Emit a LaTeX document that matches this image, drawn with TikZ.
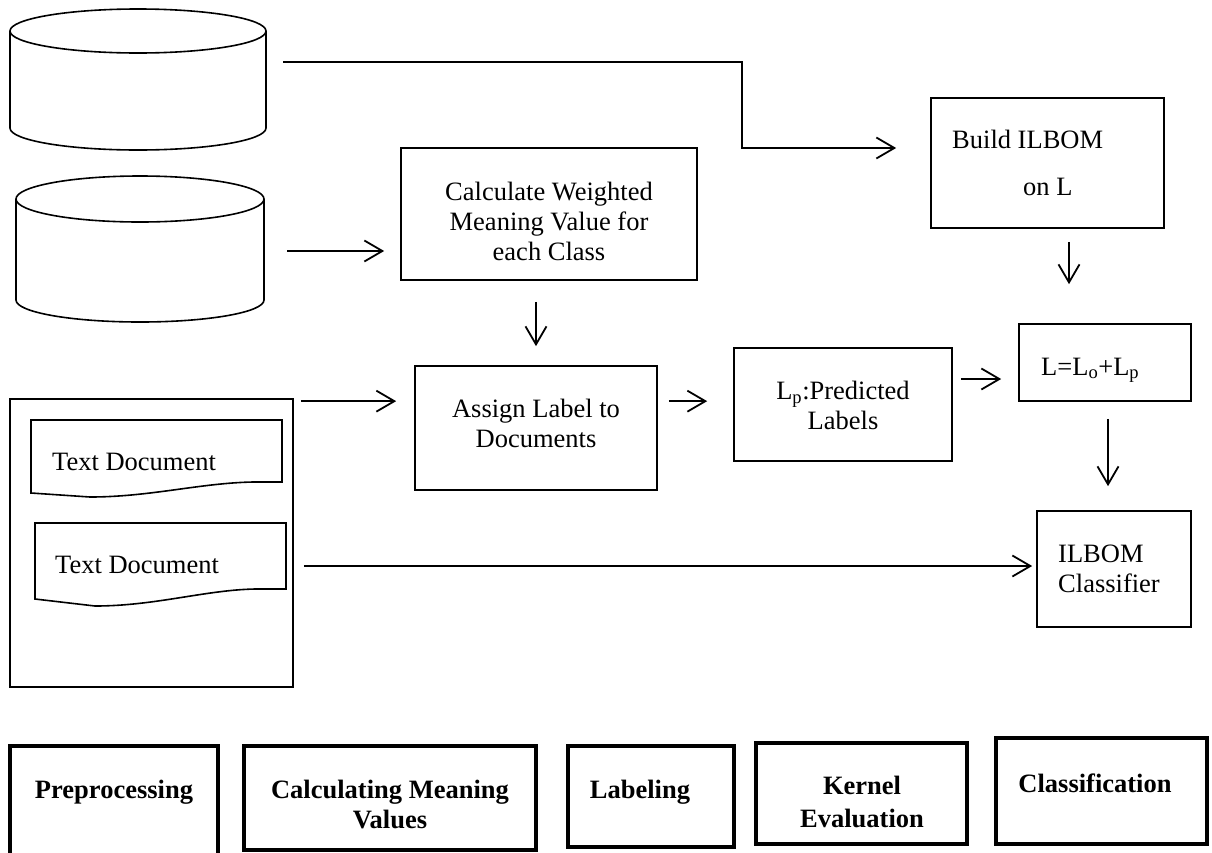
\documentclass[tikz,border=0pt]{standalone}
\usepackage{fontspec}
\setmainfont{Liberation Serif}
\usetikzlibrary{arrows.meta,calc}
\begin{document}
\begin{tikzpicture}[x=1pt,y=-1pt,
  every node/.style={font=\fontsize{26.5}{30}\selectfont},
  box/.style={draw, line width=1.7pt, inner sep=0pt},
  phasebox/.style={draw, line width=3.4pt, inner sep=0pt},
  ph/.style={font=\bfseries\fontsize{26.5}{30}\selectfont, inner sep=0pt, align=center},
  txt/.style={inner sep=0pt, align=center},
  arr/.style={line width=1.8pt, -{Straight Barb[length=18pt,width=21pt,line width=1.8pt]}},
  outline/.style={line width=1.6pt},
  ghost/.style={inner sep=0pt, draw=none}]
\useasboundingbox (0,0) rectangle (1212,852);
\fill[white] (0,0) rectangle (1212,852);
\clip (0,0) rectangle (1212,852);

% databases
\node[ghost, minimum width=256pt, minimum height=140pt] (db1) at (138,80) {};
\draw[outline] (138,31) ellipse [x radius=128, y radius=22];
\draw[outline] (10,31) -- (10,128) .. controls (10,140.2) and (67.3,150) .. (138,150) .. controls (208.7,150) and (266,140.2) .. (266,128) -- (266,31);

\node[ghost, minimum width=248pt, minimum height=146pt] (db2) at (140,249) {};
\draw[outline] (140,199) ellipse [x radius=124, y radius=23];
\draw[outline] (16,199) -- (16,300) .. controls (16,312.2) and (71.5,322) .. (140,322) .. controls (208.5,322) and (264,312.2) .. (264,300) -- (264,199);

% document container
\node[box, minimum width=283pt, minimum height=288pt] (cont) at (151.5,543) {};
\draw[outline] (31,493) -- (31,420) -- (282,420) -- (282,482) -- (253,482) .. controls (200,483) and (150,497) .. (90,497) -- cycle;
\node[txt, anchor=base west] (doc1) at (52,470) {Text Document};
\draw[outline] (35,599) -- (35,523) -- (286,523) -- (286,589) -- (255,589) .. controls (205,590) and (155,606) .. (95,606) -- cycle;
\node[txt, anchor=base west] (doc2) at (55,573) {Text Document};

% process boxes
\node[box, minimum width=296pt, minimum height=132pt] (calc) at (549,214) {};
\node[txt] (calct) at (549,221) {Calculate Weighted\\Meaning Value for\\each Class};

\node[box, minimum width=242pt, minimum height=124pt] (assign) at (536,428) {};
\node[txt] (assignt) at (536,423) {Assign Label to\\Documents};

\node[box, minimum width=218pt, minimum height=113pt] (lp) at (843,404.5) {};
\node[txt] (lpt) at (843,405.5) {L\textsubscript{p}:Predicted\\Labels};

\node[box, minimum width=172pt, minimum height=77pt] (lsum) at (1105,362.5) {};
\node[txt, anchor=base west] (lsumt) at (1041,375) {L=L\textsubscript{o}+L\textsubscript{p}};

\node[box, minimum width=233pt, minimum height=130pt] (build) at (1047.5,163) {};
\node[txt, anchor=base west] (buildt) at (952,148) {Build ILBOM};
\node[txt, anchor=base west] (buildt2) at (1023,195) {on L};

\node[box, minimum width=154pt, minimum height=116pt] (clf) at (1114,569) {};
\node[txt, align=left, anchor=north west] (clft) at (1058,544.5) {ILBOM\\Classifier};

% phase boxes
\node[phasebox, minimum width=208pt, minimum height=112pt] (pre) at (114,802) {};
\node[ph, anchor=base] (pret) at (114,798) {Preprocessing};
\node[phasebox, minimum width=292pt, minimum height=104pt] (cmv) at (390,798) {};
\node[ph] (cmvt) at (390,804) {Calculating Meaning\\Values};
\node[phasebox, minimum width=166pt, minimum height=101pt] (lab) at (651,796.5) {};
\node[ph, anchor=base] (labt) at (640,798) {Labeling};
\node[phasebox, minimum width=211pt, minimum height=101pt] (ker) at (861.5,793.5) {};
\node[ph] (kert) at (862,801.5) {Kernel\\[3pt]Evaluation};
\node[phasebox, minimum width=211pt, minimum height=106pt] (cls) at (1101.5,791) {};
\node[ph, anchor=base] (clst) at (1095,792) {Classification};

% connectors
\draw[arr] ([xshift=17pt,yshift=18pt]db1.east) -| (742,105) |- ([xshift=-34pt,yshift=15pt]build.west);
\draw[arr] ([xshift=23pt,yshift=-2pt]db2.east) -- ([xshift=-16pt,yshift=-37pt]calc.west);
\draw[arr] ([yshift=-21pt]calc.south -| assign.north) -- ([yshift=19pt]assign.north);
\coordinate (a4) at ([xshift=7pt,yshift=-3pt]cont.north east);
\draw[arr] (a4) -- ([xshift=-18pt]a4 -| assign.west);
\draw[arr] ([xshift=11pt]a4 -| assign.east) -- ([xshift=-26pt]a4 -| lp.west);
\coordinate (b6) at ([xshift=21.5pt,yshift=-13pt]build.south);
\draw[arr] (b6) -- ([yshift=39pt]b6 |- lsum.north);
\coordinate (b7) at ([yshift=-16.5pt]lsum.west);
\draw[arr] ([xshift=8pt]b7 -| lp.east) -- ([xshift=-17pt]b7);
\coordinate (b8) at ([xshift=3pt,yshift=-17pt]lsum.south);
\draw[arr] (b8) -- ([yshift=24pt]b8 |- clf.north);
\coordinate (b9) at ([xshift=10pt,yshift=-23pt]cont.east);
\draw[arr] (b9) -- ([xshift=-4pt]b9 -| clf.west);
\end{tikzpicture}
\end{document}
